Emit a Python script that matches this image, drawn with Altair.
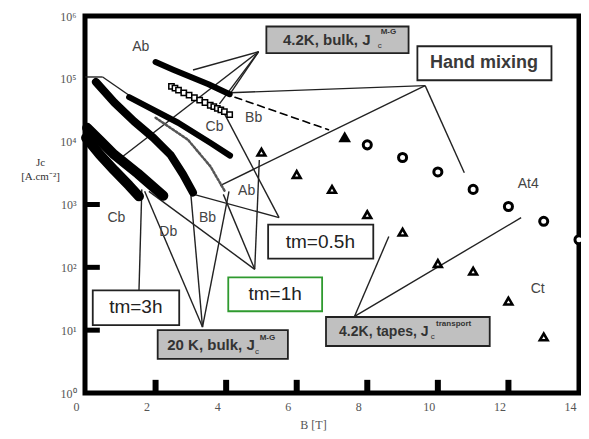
import altair as alt
import pandas as pd

# ---------------- data (B in T, Jc in A/cm^2) ----------------
# 4.2 K bulk
ab42_B = [2.0, 2.5, 3.0, 3.5, 4.1]
ab42_J = [1.85e5, 1.4e5, 1.07e5, 8.2e4, 5.7e4]
cb42_B = [2.45, 2.55, 2.65, 2.8, 2.95, 3.1, 3.25, 3.4, 3.55, 3.65, 3.75, 3.85, 3.95, 4.1]
cb42_J = [7.6e4, 7.1e4, 6.6e4, 6.0e4, 5.5e4, 5.0e4, 4.6e4, 4.2e4, 3.8e4, 3.6e4, 3.4e4, 3.2e4, 3.0e4, 2.7e4]
bb42_B = [4.25, 6.9]
bb42_J = [5.1e4, 1.55e4]
bb42pt_B = [7.36]
bb42pt_J = [1.2e4]
# 4.2 K tapes
at4_B = [8, 9, 10, 11, 12, 13, 14]
at4_J = [8.9e3, 5.6e3, 3.3e3, 1.74e3, 930, 540, 275]
ct_B = [5, 6, 7, 8, 9, 10, 11, 12, 13]
ct_J = [6.8e3, 3.0e3, 1.74e3, 690, 363, 115, 87, 29, 7.8]
# 20 K bulk
b1_B = [0.31, 0.83, 1.39, 1.94, 2.42, 2.78, 3.06]
b1_J = [8.9e4, 4.2e4, 2.1e4, 1.15e4, 6.2e3, 3.0e3, 1.55e3]
b2_B = [1.25, 2.64, 3.56, 4.11]
b2_J = [5.1e4, 2.0e4, 9.5e3, 6.0e3]
dot_B = [2.0, 2.92, 3.56, 3.97]
dot_J = [2.4e4, 1.07e4, 4.0e3, 1.6e3]
l1_B = [0.06, 0.42, 0.83, 1.5, 2.22]
l1_J = [1.66e4, 1.05e4, 6.2e3, 3.1e3, 1.38e3]
l2_B = [0.03, 0.42, 0.83, 1.25, 1.53]
l2_J = [1.15e4, 6.2e3, 3.5e3, 2.0e3, 1.35e3]

# annotation leader lines (B1, J1, B2, J2)
seg_B1 = [9.64, 9.64, 9.64, 4.92, 4.92, 4.92, 4.92, 0.0, 0.5, 5.5, 5.5, 4.81, 4.81, 4.81, 1.53, 3.33, 3.33, 3.33, 7.64, 7.64]
seg_J1 = [7.8e4, 7.8e4, 7.8e4, 2.7e5, 2.7e5, 2.7e5, 2.7e5, 1.07e5, 1.07e5, 617, 617, 93, 93, 93, 43, 11.2, 11.2, 11.2, 16.6, 16.6]
seg_B2 = [4.11, 3.83, 10.75, 3.06, 4.11, 3.81, 1.06, 0.5, 1.33, 3.92, 3.03, 4.94, 1.81, 3.92, 1.61, 1.69, 3.0, 4.08, 8.61, 12.36]
seg_J2 = [6.0e4, 2.0e3, 3.2e3, 1.38e5, 5.75e4, 4.0e4, 5.75e3, 1.07e5, 5.1e4, 3.0e4, 1.48e3, 5.1e3, 1.62e3, 1.45e3, 1.74e3, 1.62e3, 1.45e3, 1.62e3, 309, 617]

# boxes
grey_B1 = [5.14, 2.06, 6.83]
grey_B2 = [9.17, 5.75, 11.47]
grey_J1 = [6.8e5, 10, 16.2]
grey_J2 = [2.57e5, 3.5, 5.6]
white_B1 = [9.42, 5.19, 0.22]
white_B2 = [13.22, 8.17, 2.67]
white_J1 = [3.3e5, 479, 43]
white_J2 = [9.5e4, 138, 12]
green_B1 = [4.06]
green_B2 = [6.72]
green_J1 = [69]
green_J2 = [20]

# texts
curve_lbl = ["Ab", "Cb", "Bb", "Ab", "Cb", "Db", "Bb", "At4", "Ct"]
curve_B = [1.58, 3.67, 4.78, 4.58, 0.89, 2.36, 3.47, 12.56, 12.83]
curve_J = [3.2e5, 1.74e4, 2.4e4, 1.62e3, 600, 363, 600, 2.1e3, 45]

tm_lbl = ["tm=0.5h", "tm=1h", "tm=3h"]
tm_B = [6.67, 5.39, 1.44]
tm_J = [257, 37, 23]

box_lbl = ["4.2K, bulk, J", "20 K, bulk, J", "4.2K, tapes, J"]
box_B = [5.61, 2.33, 7.2]
box_J = [4.2e5, 5.8, 9.3]
box_fs = [15, 15, 14]
sub_B = [8.3, 4.82, 9.8]
sub_J = [3.3e5, 4.5, 7.7]
sup_lbl = ["M-G", "M-G", "transport"]
sup_B = [8.38, 4.95, 9.95]
sup_J = [5.6e5, 7.6, 12.5]

left_tick_J = [10, 100, 1000, 1e4]
bottom_tick_B = [2, 4, 6, 8, 10, 12]

y_vals = [1, 10, 100, 1e3, 1e4, 1e5, 1e6]
x_vals = [0, 2, 4, 6, 8, 10, 12, 14]

# ---------------- chart ----------------
xs = alt.Scale(domain=[0, 14], nice=False, zero=False)
ys = alt.Scale(type="log", domain=[1, 1e6], nice=False)
SANS = "Liberation Sans"
SERIF = "Liberation Serif"

AXX = alt.Axis(
    values=x_vals, ticks=False, domain=False, grid=False, labelFlush=False,
    labelFont=SERIF, labelFontSize=12, labelColor="#555", labelPadding=8, labelOffset=-9,
    title="B [T]", titleFont=SERIF, titleFontSize=12, titleFontWeight="normal", titleColor="#555",
    titleX=228, titleY=31, titleAlign="center", titleBaseline="middle")
AXY = alt.Axis(
    values=y_vals, ticks=False, domain=False, grid=False, labelOverlap=False, labelFlush=False,
    labelExpr="['10⁰','10¹','10²','10³','10⁴','10⁵','10⁶'][round(log(datum.value)/LN10)]",
    labelFont=SERIF, labelFontSize=12, labelColor="#555", labelPadding=9,
    title=["Jc", "[A.cm⁻²]"], titleFont=SERIF, titleFontSize=11, titleFontWeight="normal",
    titleColor="#333", titleAngle=0, titleX=-45, titleY=146, titleAlign="center",
    titleBaseline="middle", titleLineHeight=14)


def X(f):
    return alt.X(f"{f}:Q", scale=xs, axis=AXX)


def Y(f):
    return alt.Y(f"{f}:Q", scale=ys, axis=AXY)


def xy(ch, xf="B", yf="J"):
    return ch.encode(x=X(xf), y=Y(yf))


def line(B, J, w, dash=None, color="black"):
    kw = dict(color=color, strokeWidth=w, strokeCap="round", strokeJoin="round")
    if dash:
        kw["strokeDash"] = dash
    return xy(alt.Chart(pd.DataFrame({"B": B, "J": J})).mark_line(**kw))


def pts(B, J, shape, size, filled, sw=2.5):
    if filled:
        m = alt.Chart(pd.DataFrame({"B": B, "J": J})).mark_point(
            shape=shape, size=size, filled=True, color="black", opacity=1)
    else:
        m = alt.Chart(pd.DataFrame({"B": B, "J": J})).mark_point(
            shape=shape, size=size, filled=False, stroke="black", fill="white",
            fillOpacity=1, strokeWidth=sw, opacity=1)
    return xy(m)


def boxes(B1, B2, J1, J2, fill, stroke, sw=1.8):
    df = pd.DataFrame({"B1": B1, "B2": B2, "J1": J1, "J2": J2})
    return alt.Chart(df).mark_rect(fill=fill, stroke=stroke, strokeWidth=sw).encode(
        x=X("B1"), x2="B2:Q", y=Y("J1"), y2="J2:Q")


def texts(B, J, t, **mk):
    df = pd.DataFrame({"B": B, "J": J, "t": t})
    return xy(alt.Chart(df).mark_text(**mk)).encode(text="t:N")


segs = alt.Chart(pd.DataFrame({"B1": seg_B1, "J1": seg_J1, "B2": seg_B2, "J2": seg_J2})).mark_rule(
    color="#222", strokeWidth=1.4).encode(x=X("B1"), x2="B2:Q", y=Y("J1"), y2="J2:Q")

left_ticks = alt.Chart(pd.DataFrame({"J": left_tick_J, "B0": [0] * 4, "B1": [0.42] * 4})).mark_rule(
    color="black", strokeWidth=5).encode(x=X("B0"), x2="B1:Q", y=Y("J"))
bottom_ticks = alt.Chart(pd.DataFrame({"B": bottom_tick_B, "J0": [1] * 6, "J1": [1.62] * 6})).mark_rule(
    color="black", strokeWidth=6).encode(x=X("B"), y=Y("J0"), y2="J1:Q")

box_text_layers = [
    texts([b], [j], [t], font=SANS, fontSize=fs, fontWeight="bold", color="#333", align="left",
          baseline="middle")
    for b, j, t, fs in zip(box_B, box_J, box_lbl, box_fs)
]

chart = alt.layer(
    segs,
    line(dot_B, dot_J, 2.5, dash=[2, 2], color="#555"),
    line(b1_B, b1_J, 8),
    line(b2_B, b2_J, 6),
    line(l1_B, l1_J, 10),
    line(l2_B, l2_J, 10),
    line(ab42_B, ab42_J, 6),
    line(bb42_B, bb42_J, 1.6, dash=[7, 5]),
    pts(cb42_B, cb42_J, "square", 28, False, sw=1.5),
    pts(at4_B, at4_J, "circle", 65, False, sw=3),
    pts(ct_B, ct_J, "triangle-up", 60, False, sw=2.6),
    pts(bb42pt_B, bb42pt_J, "triangle-up", 160, True),
    left_ticks,
    bottom_ticks,
    boxes(grey_B1, grey_B2, grey_J1, grey_J2, "#c0c0c0", "#222"),
    boxes(white_B1, white_B2, white_J1, white_J2, "white", "#222"),
    boxes(green_B1, green_B2, green_J1, green_J2, "white", "#2f9a2f"),
    texts(curve_B, curve_J, curve_lbl, font=SANS, fontSize=14, color="#444", align="center", baseline="middle"),
    texts(tm_B, tm_J, tm_lbl, font=SANS, fontSize=19, color="#222", align="center", baseline="middle"),
    texts([11.31], [1.8e5], ["Hand mixing"], font=SANS, fontSize=18, fontWeight="bold", color="#3a3a3a",
          align="center", baseline="middle"),
    *box_text_layers,
    texts(sub_B, sub_J, ["c", "c", "c"], font=SANS, fontSize=8, color="#333", align="left", baseline="middle"),
    texts(sup_B, sup_J, sup_lbl, font=SANS, fontSize=8, fontWeight="bold", color="#333", align="left",
          baseline="middle"),
).properties(
    width=494, height=377,
    autosize=alt.AutoSizeParams(type="none"),
    padding={"left": 77, "top": 8, "right": 2, "bottom": 38},
).configure_view(stroke="black", strokeWidth=5)

chart.save("out.html", embed_options={"renderer": "svg", "actions": False})
